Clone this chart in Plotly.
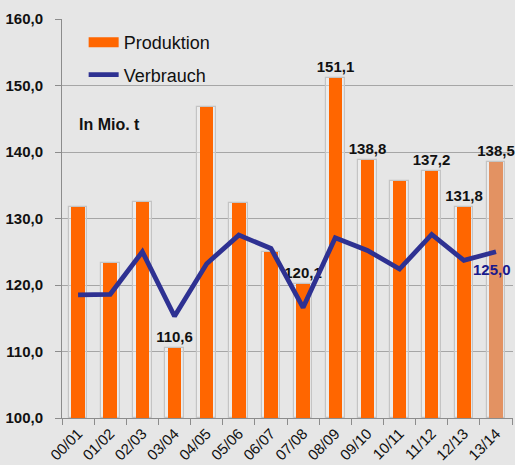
import plotly.graph_objects as go

categories = ["00/01", "01/02", "02/03", "03/04", "04/05", "05/06", "06/07",
              "07/08", "08/09", "09/10", "10/11", "11/12", "12/13", "13/14"]
produktion = [131.7, 123.3, 132.5, 110.6, 146.8, 132.3, 125.0,
              120.1, 151.1, 138.8, 135.6, 137.2, 131.8, 138.5]
verbrauch = [118.5, 118.6, 125.0, 115.3, 123.2, 127.5, 125.5,
             116.6, 127.1, 125.2, 122.4, 127.6, 123.7, 125.0]
prod_labels = ["", "", "", "110,6", "", "", "",
               "120,1", "151,1", "138,8", "", "137,2", "131,8", "138,5"]
verb_label = "125,0"
y_ticks = [100, 110, 120, 130, 140, 150, 160]
y_ticktext = ["100,0", "110,0", "120,0", "130,0", "140,0", "150,0", "160,0"]

ORANGE = "#ff6600"
bar_colors = [ORANGE] * 13 + ["#e39262"]
FONT = "Liberation Sans, Arial, sans-serif"

fig = go.Figure()
# frame behind bars
fig.add_trace(go.Bar(
    x=categories, y=[p - 100 for p in produktion], base=100,
    width=0.58, marker=dict(color="rgba(245,245,245,0.4)",
                            line=dict(color="#c4c4c4", width=1.2)),
    showlegend=False, hoverinfo="skip"))
fig.add_trace(go.Bar(
    x=categories, y=[p - 100 for p in produktion], base=100,
    width=0.42, name="Produktion", marker=dict(color=bar_colors, line=dict(width=0)),
    text=prod_labels, texttemplate="<b>%{text}</b>",
    textposition="outside", cliponaxis=False, constraintext="none",
    textfont=dict(family=FONT, size=15, color="#111111"),
    showlegend=False))
# legend swatch for Produktion (wide rectangle like the reference)
fig.add_trace(go.Scatter(
    x=[None], y=[None], mode="lines", name="Produktion",
    line=dict(color=ORANGE, width=10), legendgroup="a"))
fig.add_trace(go.Scatter(
    x=categories, y=verbrauch, mode="lines", name="Verbrauch",
    line=dict(color="#2e3192", width=4.8),
    cliponaxis=False, legendgroup="b"))

fig.add_annotation(x=categories[-1], y=verbrauch[-1], xref="x", yref="y",
                   text="<b>%s</b>" % verb_label, showarrow=False,
                   xshift=-4, yshift=-18,
                   font=dict(family=FONT, size=15, color="#1a1a8c"))
fig.add_annotation(x=0.033, y=144.1, xref="x domain", yref="y", text="<b>In Mio. t</b>",
                   showarrow=False, xanchor="left",
                   font=dict(family=FONT, size=16, color="#111111"))

fig.update_layout(
    width=515, height=465,
    margin=dict(l=62, r=2, t=19, b=47),
    paper_bgcolor="#e6e6e6", plot_bgcolor="#e6e6e6",
    barmode="overlay", bargap=0,
    font=dict(family=FONT, size=14, color="#111111"),
    legend=dict(x=0.048, y=0.9875, xanchor="left", yanchor="top",
                bgcolor="rgba(0,0,0,0)", font=dict(family=FONT, size=18),
                traceorder="grouped", tracegroupgap=6, itemwidth=30),
    showlegend=True,
)
fig.update_xaxes(
    type="category", tickangle=-45, showgrid=False, automargin=False,
    showline=True, linecolor="#8c8c8c", linewidth=1,
    ticks="outside", tickson="boundaries", ticklen=6, tickcolor="#8c8c8c",
    tickfont=dict(family=FONT, size=15, color="#111111"),
)
fig.update_yaxes(
    range=[100, 160], tickvals=y_ticks, ticktext=["<b>%s</b>" % t for t in y_ticktext],
    showgrid=True, gridcolor="#a6a6a6", gridwidth=1, automargin=False,
    showline=True, linecolor="#8c8c8c", linewidth=1,
    ticks="outside", ticklen=6, tickcolor="#8c8c8c", ticklabelstandoff=9,
    tickfont=dict(family=FONT, size=15, color="#111111"),
    zeroline=False,
)
fig.write_html("out.html", config={"displayModeBar": False},
               post_script="document.body.style.margin='0';document.body.style.background='#e6e6e6';")
